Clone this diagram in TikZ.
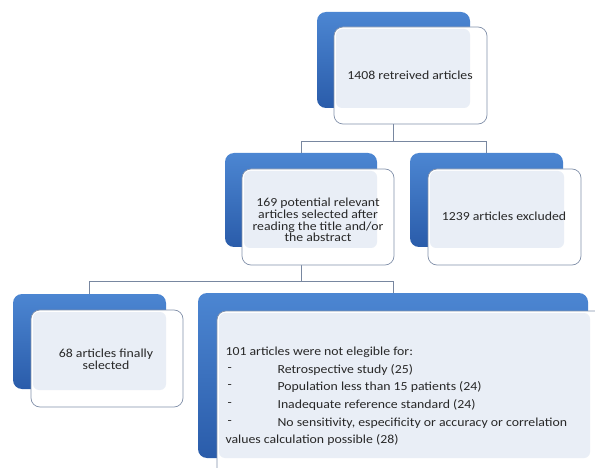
\documentclass[tikz,border=0pt]{standalone}
\usepackage{fontspec}
\setmainfont{Carlito}[FakeStretch=1.12]
\begin{document}
\begin{tikzpicture}[x=1pt,y=-1pt,
  bluebox/.style={rounded corners=9pt, draw=none, top color=blue1, bottom color=blue2, inner sep=0pt},
  whitebox/.style={rounded corners=9pt, draw=edgec, line width=0.7pt, fill=white, inner sep=0pt},
  innerfill/.style={rounded corners=6pt, draw=none, fill=innerc, inner sep=0pt},
  conn/.style={draw=connc, line width=0.8pt},
  txt/.style={font=\fontsize{12.3}{11.8}\selectfont, align=center, text=textc}
]
\definecolor{blue1}{RGB}{76,134,210}
\definecolor{blue2}{RGB}{42,92,170}
\definecolor{edgec}{RGB}{130,145,170}
\definecolor{innerc}{RGB}{233,238,246}
\definecolor{connc}{RGB}{120,135,160}
\definecolor{textc}{RGB}{40,40,40}
\useasboundingbox (0,0) rectangle (595,468);
\clip (0,0) rectangle (595,468);
% blue back boxes
\path[bluebox] (317,12) rectangle (470,108);
\node[inner sep=0pt] (b1) at (393.5,60) {};
\path[bluebox] (225,153) rectangle (377,247);
\node[inner sep=0pt] (b2) at (301,200) {};
\path[bluebox] (410,153) rectangle (563,247);
\node[inner sep=0pt] (b3) at (486.5,200) {};
\path[bluebox] (13,294) rectangle (166,389);
\node[inner sep=0pt] (b4) at (89.5,341) {};
\path[bluebox] (198,293) rectangle (588,458);
\node[inner sep=0pt] (b5) at (393,375) {};
\coordinate (t1) at (393.5,153);
\coordinate (t2) at (301,153);
\coordinate (t3) at (486.5,153);
\coordinate (t4) at (89.5,294);
\coordinate (t5) at (393,293);
\coordinate (bar1) at (393.5,141);
\coordinate (bar2) at (301,281);
% connectors
\draw[conn] (393.5,108) -- (bar1) -| (t2);
\draw[conn] (bar1) -| (t3);
\draw[conn] (301,247) -- (bar2) -| (t4);
\draw[conn] (bar2) -| (t5);
% white front boxes
\path[whitebox] (334,27) rectangle (487,124);
\path[innerfill] (336,29) rectangle (470,108);
\path[whitebox] (242,169) rectangle (394,265);
\path[innerfill] (244,171) rectangle (377,248);
\path[whitebox] (428,169) rectangle (581,265);
\path[innerfill] (430,171) rectangle (564,248);
\path[whitebox] (31,310) rectangle (183,407);
\path[innerfill] (33,312) rectangle (166,390);
\path[whitebox] (217,311) rectangle (620,490);
\path[innerfill] (219,313) rectangle (590,458);
% texts
\node[txt] (n1) at (410,75) {1408 retreived articles};
\node[txt] (n2) at (318,220) {169 potential relevant\\articles selected after\\reading the title and/or\\the abstract};
\node[txt] (n3) at (504,216) {1239 articles excluded};
\node[txt] (n4) at (106,359) {68 articles finally\\selected};
\node[txt, anchor=west] (l0) at (222,352) {101 articles were not elegible for:};
\node[txt, anchor=west] (d1) at (224,370) {-};
\node[txt, anchor=west] (l1) at (274,370) {Retrospective study (25)};
\node[txt, anchor=west] (d2) at (224,387) {-};
\node[txt, anchor=west] (l2) at (274,387) {Population less than 15 patients (24)};
\node[txt, anchor=west] (d3) at (224,405) {-};
\node[txt, anchor=west] (l3) at (274,405) {Inadequate reference standard (24)};
\node[txt, anchor=west] (d4) at (224,423) {-};
\node[txt, anchor=west] (l4) at (274,423) {No sensitivity, especificity or accuracy or correlation};
\node[txt, anchor=west] (l5) at (222,440) {values calculation possible (28)};
\end{tikzpicture}
\end{document}
